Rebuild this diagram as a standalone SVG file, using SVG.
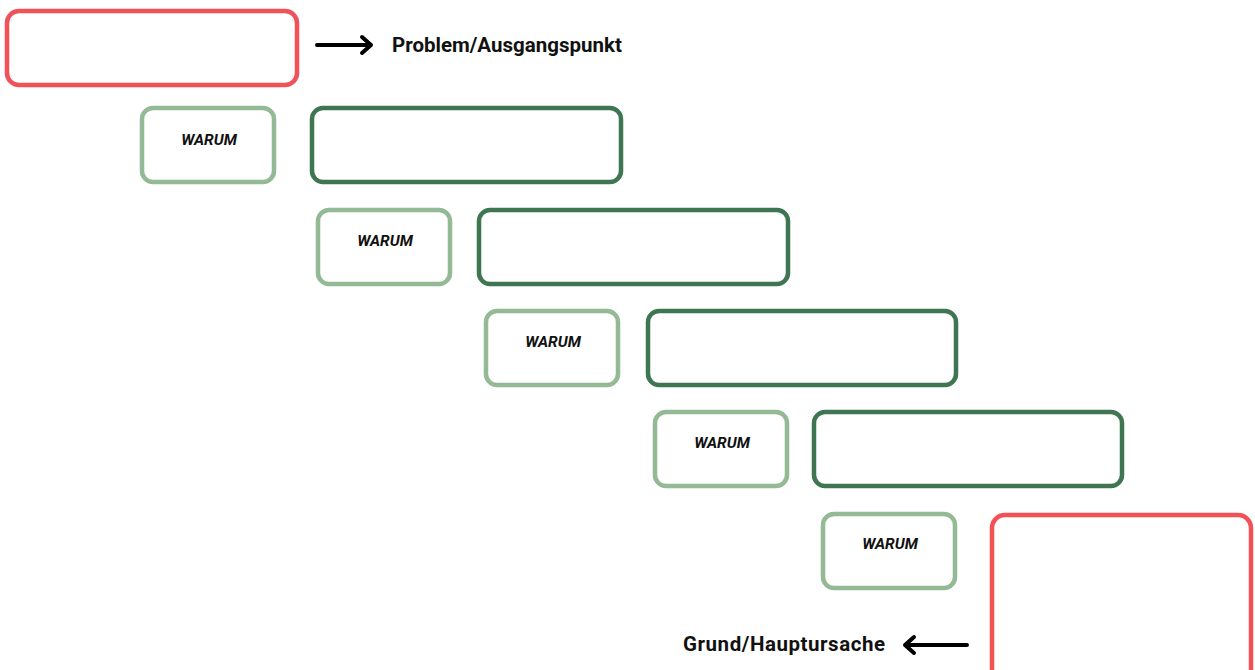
<svg xmlns="http://www.w3.org/2000/svg" width="1255" height="670" viewBox="0 0 1255 670">
<style>
.red{fill:#fff;stroke:#f05257;stroke-width:4.5}
.why{fill:#fff;stroke:#93b995;stroke-width:4.5}
.ans{fill:#fff;stroke:#3f7652;stroke-width:4.5}
.wt{font-family:Roboto,"Liberation Sans",sans-serif;font-weight:bold;font-style:italic;font-size:15.5px;fill:#111;text-anchor:middle}
.lbl{font-family:Roboto,"Liberation Sans",sans-serif;font-weight:bold;font-size:20.5px;fill:#111}
.arr{fill:none;stroke:#000;stroke-width:4;stroke-linecap:round;stroke-linejoin:round}
</style>
<rect width="1255" height="670" fill="#fff"/>
<g id="problem"><rect class="red" x="7" y="11" width="290" height="74" rx="12"/></g>
<g id="why1"><rect class="why" x="142" y="108" width="132" height="74" rx="11"/><text class="wt" x="209" y="145">WARUM</text></g>
<g id="ans1"><rect class="ans" x="312" y="108" width="309" height="74" rx="11"/></g>
<g id="why2"><rect class="why" x="318" y="210" width="132" height="74" rx="11"/><text class="wt" x="385" y="246">WARUM</text></g>
<g id="ans2"><rect class="ans" x="479" y="210" width="309" height="74" rx="11"/></g>
<g id="why3"><rect class="why" x="486" y="311" width="132" height="74" rx="11"/><text class="wt" x="553" y="347">WARUM</text></g>
<g id="ans3"><rect class="ans" x="648" y="311" width="308" height="74" rx="11"/></g>
<g id="why4"><rect class="why" x="655" y="412" width="132" height="74" rx="11"/><text class="wt" x="722" y="448">WARUM</text></g>
<g id="ans4"><rect class="ans" x="814" y="412" width="308" height="74" rx="11"/></g>
<g id="why5"><rect class="why" x="823" y="514" width="132" height="74" rx="11"/><text class="wt" x="890" y="549">WARUM</text></g>
<g id="root"><rect class="red" x="992" y="515" width="259" height="175" rx="13"/></g>
<g id="connectors">
<path class="arr" d="M317 45 H371 M362 37 L371 45 L362 53"/>
<path class="arr" d="M967 645 H905 M914 637 L905 645 L914 653"/>
</g>
<g id="labels">
<text class="lbl" x="392" y="52">Problem/Ausgangspunkt</text>
<text class="lbl" x="683" y="651" textLength="202">Grund/Hauptursache</text>
</g>
</svg>
